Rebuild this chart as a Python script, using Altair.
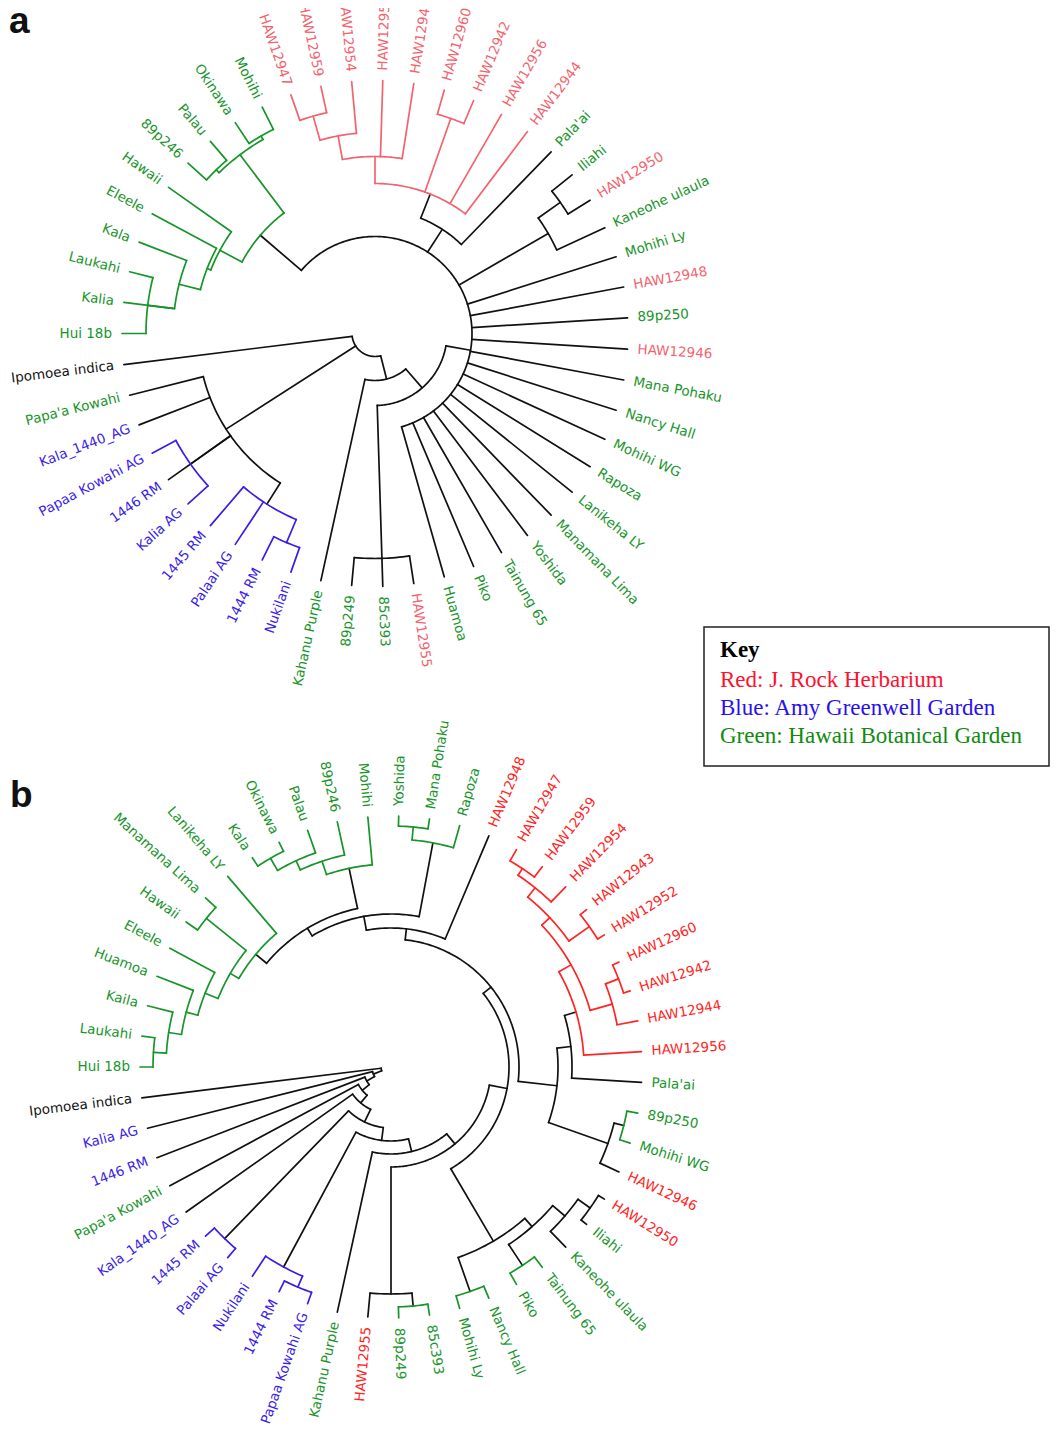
import math
import pandas as pd
import altair as alt

# ---------------- data ----------------
# leaves listed counter-clockwise, starting at the outgroup (Ipomoea indica)
LEAVES_A = ["Ipomoea indica", "Papa'a Kowahi", "Kala_1440_AG", "Papaa Kowahi AG", "1446 RM", "Kalia AG",
            "1445 RM", "Palaai AG", "1444 RM", "Nukilani", "Kahanu Purple", "89p249", "85c393", "HAW12955",
            "Huamoa", "Piko", "Tainung 65", "Yoshida", "Manamana Lima", "Lanikeha LY", "Rapoza", "Mohihi WG",
            "Nancy Hall", "Mana Pohaku", "HAW12946", "89p250", "HAW12948", "Mohihi Ly", "Kaneohe ulaula",
            "HAW12950", "Iliahi", "Pala'ai", "HAW12944", "HAW12956", "HAW12942", "HAW12960", "HAW12943",
            "HAW12952", "HAW12954", "HAW12959", "HAW12947", "Mohihi", "Okinawa", "Palau", "89p246", "Hawaii",
            "Eleele", "Kala", "Laukahi", "Kalia", "Hui 18b"]
SRC_A = ["K", "G", "B", "B", "B", "B", "B", "B", "B", "B", "G", "G", "G", "R",
         "G", "G", "G", "G", "G", "G", "G", "G", "G", "G", "R", "G", "R", "G", "G",
         "R", "G", "G", "R", "R", "R", "R", "R", "R", "R", "R", "R",
         "G", "G", "G", "G", "G", "G", "G", "G", "G", "G"]
LPAR_A = ["K", "P2", "P2", "PB", "P2", "PB", "Q2", "Q2", "Q1", "Q1", "J", "T3", "T3", "T3",
          "M", "M", "M", "M", "M", "M", "M", "M", "M", "M", "M", "M", "M", "M",
          "S2", "S1", "S1", "R7", "R6", "R6", "R5", "R5", "R3", "R3", "R2", "R1", "R1",
          "B1", "B1", "B2", "B2", "N5", "N4", "N3", "N1", "N2", "N1"]
NODES_A = ["K", "P2", "PB", "Q2", "Q1", "J", "I", "T3", "M", "B4", "B3", "B2", "B1", "N5", "N4", "N3",
           "N2", "N1", "R7", "R6", "R3", "R2", "R1", "R5", "S2", "S1"]
NPAR_A = [None, "K", "P2", "P2", "Q2", "K", "J", "I", "I", "M", "B4", "B3", "B3", "B4", "N5", "N4",
          "N3", "N2", "M", "R7", "R6", "R3", "R2", "R6", "M", "S2"]
NRAD_A = [23, 177, 226, 202, 227, 47, 72, 225, 97, 151, 224, 228, 228, 176, 180, 202,
          204, 229, 124, 150, 177, 201, 226, 228, 200, 227]
CLADES_A = {"B4": "G", "R6": "R", "PB": "B", "Q2": "B"}

LEAVES_B = ["Ipomoea indica", "Kalia AG", "1446 RM", "Papa'a Kowahi", "Kala_1440_AG", "1445 RM", "Palaai AG",
            "Nukilani", "1444 RM", "Papaa Kowahi AG", "Kahanu Purple", "HAW12955", "89p249", "85c393",
            "Mohihi Ly", "Nancy Hall", "Piko", "Tainung 65", "Kaneohe ulaula", "Iliahi", "HAW12950",
            "HAW12946", "Mohihi WG", "89p250", "Pala'ai", "HAW12956", "HAW12944", "HAW12942", "HAW12960",
            "HAW12952", "HAW12943", "HAW12954", "HAW12959", "HAW12947", "HAW12948", "Rapoza", "Mana Pohaku",
            "Yoshida", "Mohihi", "89p246", "Palau", "Okinawa", "Kala", "Lanikeha LY", "Manamana Lima",
            "Hawaii", "Eleele", "Huamoa", "Kaila", "Laukahi", "Hui 18b"]
SRC_B = ["K", "B", "B", "G", "B", "B", "B", "B", "B", "B", "G", "R", "G", "G",
         "G", "G", "G", "G", "G", "G", "R", "R", "G", "G", "G",
         "R", "R", "R", "R", "R", "R", "R", "R", "R", "R",
         "G", "G", "G", "G", "G", "G", "G", "G", "G", "G", "G", "G", "G", "G", "G", "G"]
LPAR_B = ["Z0", "Z1", "Z2", "Z3", "Z4", "BP1", "BP1", "BP3", "BP2", "BP2", "Z7", "U1", "U2", "U2",
          "W1", "W1", "W2", "W2", "W6", "W5", "W5", "G1", "G2", "G2", "H1", "H2", "Hb", "Ha", "Ha",
          "H5", "H5", "H6", "H7", "H7", "Y3", "T2", "T1", "T1", "M4", "M3", "M2", "M1", "M1",
          "GL7", "GL5", "GL5", "GL4", "GL3", "GL2", "GL1", "GL1"]
NODES_B = ["Z0", "Z1", "Z2", "Z3", "Z4", "Z5", "Z6", "Z7", "Z8", "Z9", "BP1", "BP3", "BP2", "U1", "U2",
           "W", "W1", "W3", "W2", "W6", "W5", "Y4", "X", "H1", "H2", "H3", "Hb", "Ha", "H4", "H5", "H6",
           "H7", "G1", "G2", "Y3", "Y2", "Y1", "T2", "T1", "M4", "M3", "M2", "M1",
           "GL7", "GL6", "GL5", "GL4", "GL3", "GL2", "GL1"]
NPAR_B = [None, "Z0", "Z1", "Z2", "Z3", "Z4", "Z5", "Z6", "Z7", "Z8", "Z5", "Z6", "BP3", "Z8", "U1",
          "Z9", "W", "W", "W3", "W3", "W6", "Z9", "Y4", "X", "H1", "H2", "H3", "Hb", "H3", "H4", "H4",
          "H6", "X", "G1", "Y4", "Y3", "Y2", "Y2", "T2", "Y1", "M4", "M3", "M2",
          "Y1", "GL7", "GL6", "GL6", "GL4", "GL3", "GL2"]
NRAD_B = [10, 19, 28, 37, 47, 61, 74, 87, 100, 118, 239, 227, 239, 227, 240,
          202, 238, 213, 238, 229, 244, 128, 167, 181, 193, 207, 230, 244, 218, 243, 230,
          238, 230, 240, 139, 153, 162, 228, 241, 203, 217, 227, 241,
          176, 186, 237, 200, 212, 225, 238]
CLADES_B = {"GL7": "G", "M4": "G", "T2": "G", "H2": "R", "G2": "G", "W1": "G", "W2": "G",
            "U2": "G", "BP1": "B", "BP3": "B"}

KEY_LINES = ["Key", "Red: J. Rock Herbarium", "Blue: Amy Greenwell Garden", "Green: Hawaii Botanical Garden"]
PANEL_LETTERS = ["a", "b"]

# ---------------- styling ----------------
PAL_A = {"R": "#f2636e", "G": "#17952a", "B": "#3b1ee6", "K": "#111111"}
PAL_B = {"R": "#ff2424", "G": "#17952a", "B": "#3b1ee6", "K": "#111111"}
KEY_COLORS = ["#000000", "#ff1030", "#2a10f0", "#108a10"]


def build(panel, leaves, src, lpar, nodes, npar, nrad, clades, pal, cx, cy, rleaf):
    n = len(leaves)
    step = 360.0 / n
    ang, rad, par = {}, {}, {}
    for i, (lf, p) in enumerate(zip(leaves, lpar)):
        ang[lf] = 180.0 + step * (i + 1)
        rad[lf] = rleaf
        par[lf] = p
    for nm, p, r in zip(nodes, npar, nrad):
        rad[nm] = r
        par[nm] = p
    children = {nm: [] for nm in nodes}
    for k, p in par.items():
        if p is not None:
            children[p].append(k)

    def get_ang(nm):
        if nm not in ang:
            ang[nm] = sum(get_ang(c) for c in children[nm]) / len(children[nm])
        return ang[nm]

    for nm in nodes:
        get_ang(nm)

    def clade_of(nm):
        while nm is not None:
            if nm in clades:
                return pal[clades[nm]]
            nm = par[nm]
        return pal["K"]

    def pt(r, a):
        t = math.radians(a)
        return cx + r * math.cos(t), cy - r * math.sin(t)

    erows, arows, lrows = [], [], []
    for k, p in par.items():
        if p is None:
            continue
        x0, y0 = pt(rad[p], ang[k])
        x1, y1 = pt(rad[k], ang[k])
        erows.append({"x": x0, "y": y0, "x2": x1, "y2": y1, "col": clade_of(p)})
    for nm in nodes:
        angs = [ang[c] for c in children[nm]]
        a0, a1 = min(angs), max(angs)
        if a1 - a0 < 1e-6:
            continue
        m = int(math.ceil(a1 - a0)) + 1
        col = clade_of(nm)
        for j in range(m + 1):
            a = a0 + (a1 - a0) * j / m
            x, y = pt(rad[nm], a)
            arows.append({"aid": f"{panel}-{nm}", "k": j, "x": x, "y": y, "col": col})
    for lf, s in zip(leaves, src):
        a = ang[lf]
        x, y = pt(rleaf + 10, a)
        if math.cos(math.radians(a)) >= 0:
            side, rot = "r", (-a) % 360
        else:
            side, rot = "l", (180 - a) % 360
        lrows.append({"label": lf, "x": x, "y": y, "rot": rot, "side": side, "col": pal[s]})
    return erows, arows, lrows


ea, aa, la = build("a", LEAVES_A, SRC_A, LPAR_A, NODES_A, NPAR_A, NRAD_A, CLADES_A, PAL_A, 375, 333.5, 253)
eb, ab, lb = build("b", LEAVES_B, SRC_B, LPAR_B, NODES_B, NPAR_B, NRAD_B, CLADES_B, PAL_B, 391, 1067, 251)
edges = pd.DataFrame(ea + eb)
arcs = pd.DataFrame(aa + ab)
labels = pd.DataFrame(la + lb)

key_df = pd.DataFrame({"t": KEY_LINES, "x": [720] * 4, "y": [657, 687, 715, 743], "col": KEY_COLORS})
box_df = pd.DataFrame({"x": [704], "x2": [1049], "y": [627], "y2": [766]})
let_df = pd.DataFrame({"t": PANEL_LETTERS, "x": [9, 10], "y": [33, 807]})

xs = alt.Scale(domain=[8, 1051], nice=False, zero=False)
ys = alt.Scale(domain=[8, 1433], nice=False, zero=False, reverse=True)


def X(f):
    return alt.X(f"{f}:Q", scale=xs, axis=None)


def Y(f):
    return alt.Y(f"{f}:Q", scale=ys, axis=None)


rules = alt.Chart(edges).mark_rule(strokeWidth=1.7, strokeCap="round").encode(
    x=X("x"), y=Y("y"), x2="x2:Q", y2="y2:Q", color=alt.Color("col:N", scale=None))
arclines = alt.Chart(arcs).mark_line(strokeWidth=1.7, strokeCap="round", strokeJoin="round").encode(
    x=X("x"), y=Y("y"), detail="aid:N", order="k:Q", color=alt.Color("col:N", scale=None))
lab_r = alt.Chart(labels[labels.side == "r"]).mark_text(
    align="left", baseline="middle", font="DejaVu Sans", fontSize=13.5, clip=True).encode(
    x=X("x"), y=Y("y"), text="label:N", angle=alt.Angle("rot:Q", scale=None),
    color=alt.Color("col:N", scale=None))
lab_l = alt.Chart(labels[labels.side == "l"]).mark_text(
    align="right", baseline="middle", font="DejaVu Sans", fontSize=13.5, clip=True).encode(
    x=X("x"), y=Y("y"), text="label:N", angle=alt.Angle("rot:Q", scale=None),
    color=alt.Color("col:N", scale=None))
box = alt.Chart(box_df).mark_rect(fillOpacity=0, stroke="#222222", strokeWidth=1.5).encode(
    x=X("x"), x2="x2:Q", y=Y("y"), y2="y2:Q")
key_title = alt.Chart(key_df.iloc[:1]).mark_text(
    align="left", baseline="alphabetic", font="Liberation Serif", fontSize=23, fontWeight="bold").encode(
    x=X("x"), y=Y("y"), text="t:N", color=alt.Color("col:N", scale=None))
key_txt = alt.Chart(key_df.iloc[1:]).mark_text(
    align="left", baseline="alphabetic", font="Liberation Serif", fontSize=23).encode(
    x=X("x"), y=Y("y"), text="t:N", color=alt.Color("col:N", scale=None))
letters = alt.Chart(let_df).mark_text(
    align="left", baseline="alphabetic", font="Liberation Sans", fontSize=37, fontWeight="bold",
    color="#111111").encode(x=X("x"), y=Y("y"), text="t:N")

chart = alt.layer(rules, arclines, lab_r, lab_l, box, key_title, key_txt, letters).properties(
    width=1043, height=1425, padding=0, autosize="none"
).configure_view(stroke=None)

chart.save("out.html", embed_options={"renderer": "svg", "actions": False})
